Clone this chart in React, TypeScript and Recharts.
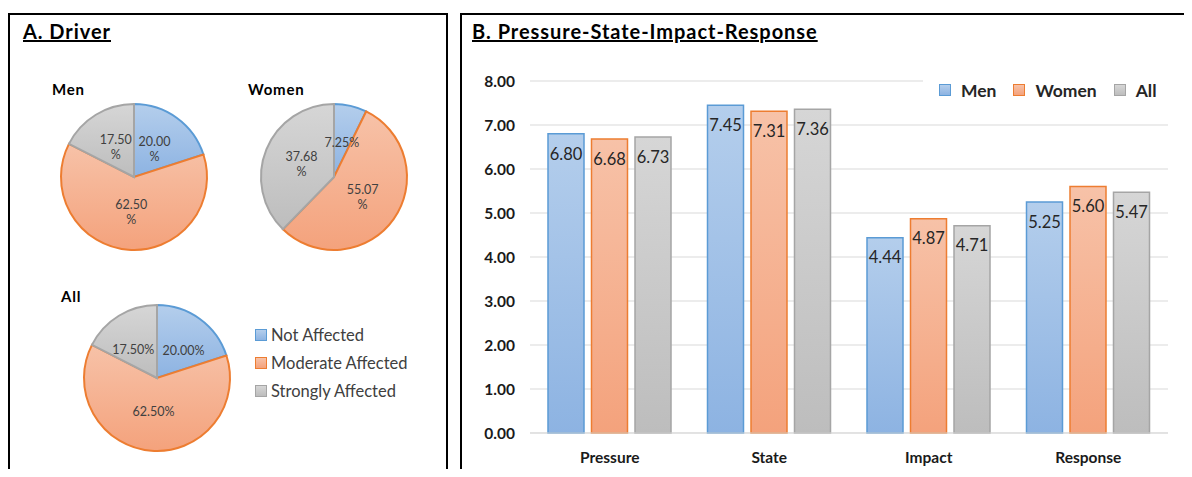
import React from 'react';
import { BarChart, Bar, XAxis, YAxis, CartesianGrid, LabelList, Legend, PieChart, Pie, Cell } from 'recharts';

const categories = ['Pressure', 'State', 'Impact', 'Response'];
const menScores = [6.8, 7.45, 4.44, 5.25];
const womenScores = [6.68, 7.31, 4.87, 5.6];
const allScores = [6.73, 7.36, 4.71, 5.47];
const yTicks = [0, 1, 2, 3, 4, 5, 6, 7, 8];
const seriesNames = ['Men', 'Women', 'All'];

const impactLevels = ['Not Affected', 'Moderate Affected', 'Strongly Affected'];
const menShares = [20.0, 62.5, 17.5];
const womenShares = [7.25, 55.07, 37.68];
const allShares = [20.0, 62.5, 17.5];

const FONT = 'Lato, "Open Sans", sans-serif';
const strokes = ['#5b9bd5', '#ed7d31', '#a5a5a5'];
const gradTop = ['#b4ceec', '#f7c2a8', '#d6d6d6'];
const gradBottom = ['#8db3e2', '#f4a27c', '#bdbdbd'];

const barData = categories.map((c, i) => ({ name: c, men: menScores[i], women: womenScores[i], all: allScores[i] }));
const mkPie = (vals: number[]) => impactLevels.map((n, i) => ({ name: n, value: vals[i] }));
const pies = [
  { key: 'men', data: mkPie(menShares), cx: 124, cy: 117, wrap: true, rx: 0.48, ry: 0.48 },
  { key: 'women', data: mkPie(womenShares), cx: 324, cy: 117, wrap: true, rx: 0.48, ry: 0.48 },
  { key: 'all', data: mkPie(allShares), cx: 147, cy: 318, wrap: false, rx: 0.62, ry: 0.46 },
];

const RAD = Math.PI / 180;

function Defs({ prefix }: { prefix: string }) {
  return (
    <defs>
      {strokes.map((s, i) => (
        <linearGradient key={i} id={`${prefix}${i}`} x1="0" y1="0" x2="0" y2="1">
          <stop offset="0%" stopColor={gradTop[i]} />
          <stop offset="100%" stopColor={gradBottom[i]} />
        </linearGradient>
      ))}
    </defs>
  );
}

const makePieLabel = (wrap: boolean, rx: number, ry: number) => (props: any) => {
  const { cx, cy, midAngle, outerRadius, value } = props;
  const x = cx + outerRadius * rx * Math.cos(-midAngle * RAD);
  const y = cy + outerRadius * ry * Math.sin(-midAngle * RAD);
  const txt = value.toFixed(2);
  if (wrap && value >= 10) {
    return (
      <text x={x} y={y} textAnchor="middle" fontSize={12.5} fill="#404040" fontFamily={FONT}>
        <tspan x={x} dy={-3}>{txt}</tspan>
        <tspan x={x} dy={15}>%</tspan>
      </text>
    );
  }
  return (
    <text x={x} y={y} textAnchor="middle" dominantBaseline="central" fontSize={12.5} fill="#404040" fontFamily={FONT}>
      {txt + '%'}
    </text>
  );
};

const PieLegend = () => (
  <div style={{ fontFamily: FONT, fontSize: 16.5, color: '#404040' }}>
    {impactLevels.map((n, i) => (
      <div key={n} style={{ display: 'flex', alignItems: 'center', height: 28 }}>
        <span style={{ display: 'inline-block', width: 10, height: 10, border: `1px solid ${strokes[i]}`, background: `linear-gradient(${gradTop[i]}, ${gradBottom[i]})`, marginRight: 4 }} />
        <span>{n}</span>
      </div>
    ))}
  </div>
);

const BarLegend = () => (
  <div style={{ display: 'flex', alignItems: 'center', fontFamily: FONT, fontWeight: 700, fontSize: 17.5, color: '#262626', background: '#fff', height: 38, paddingLeft: 16 }}>
    {seriesNames.map((n, i) => (
      <div key={n} style={{ display: 'flex', alignItems: 'center', marginRight: 17 }}>
        <span style={{ display: 'inline-block', width: 10, height: 10, border: `1px solid ${strokes[i]}`, background: `linear-gradient(${gradTop[i]}, ${gradBottom[i]})`, marginRight: 10 }} />
        <span>{n}</span>
      </div>
    ))}
  </div>
);

const titleStyle: React.CSSProperties = {
  position: 'absolute', fontFamily: FONT, fontWeight: 700, fontSize: 20, letterSpacing: 0.95, textDecoration: 'underline', color: '#000', whiteSpace: 'nowrap',
};
const pieTitle: React.CSSProperties = {
  position: 'absolute', fontFamily: FONT, fontWeight: 700, fontSize: 15, letterSpacing: 0.8, color: '#000',
};

export default function App() {
  return (
    <div style={{ position: 'relative', width: 1192, height: 477, margin: -8, overflow: 'hidden', background: '#fff' }}>
      <div style={{ position: 'absolute', left: 8, top: 13, width: 436, height: 480, border: '2px solid #000' }} />
      <div style={{ position: 'absolute', left: 460, top: 13, width: 760, height: 480, border: '2px solid #000' }} />

      <div style={{ ...titleStyle, left: 23, top: 19 }}>A. Driver</div>
      <div style={{ ...titleStyle, left: 472, top: 19 }}>B. Pressure-State-Impact-Response</div>

      <div style={{ ...pieTitle, left: 52, top: 80 }}>Men</div>
      <div style={{ ...pieTitle, left: 248, top: 80 }}>Women</div>
      <div style={{ ...pieTitle, left: 61, top: 287 }}>All</div>

      <div style={{ position: 'absolute', left: 10, top: 60 }}>
        <PieChart width={430} height={410} margin={{ top: 0, right: 0, bottom: 0, left: 0 }}>
          <Defs prefix="pg" />
          {pies.map((p) => (
            <Pie
              key={p.key}
              data={p.data}
              dataKey="value"
              nameKey="name"
              cx={p.cx}
              cy={p.cy}
              outerRadius={73}
              startAngle={90}
              endAngle={-270}
              isAnimationActive={false}
              labelLine={false}
              label={makePieLabel(p.wrap, p.rx, p.ry)}
            >
              {p.data.map((d, i) => (
                <Cell key={d.name} fill={`url(#pg${i})`} stroke={strokes[i]} strokeWidth={2} />
              ))}
            </Pie>
          ))}
          <Legend content={<PieLegend />} layout="horizontal" verticalAlign="middle" align="center"
            wrapperStyle={{ position: 'absolute', left: 245, top: 261, width: 185 }} />
        </PieChart>
      </div>

      <div style={{ position: 'absolute', left: 470, top: 50 }}>
        <BarChart width={722} height={427} data={barData} margin={{ top: 31, right: 24, bottom: 14, left: 10 }} barSize={36} barGap={7.5}>
          <Defs prefix="bg" />
          <CartesianGrid vertical={false} stroke="#d9d9d9" strokeWidth={1} />
          <XAxis dataKey="name" axisLine={{ stroke: '#d9d9d9' }} tickLine={false} height={30} tickMargin={13}
            tick={{ fontFamily: FONT, fontWeight: 700, fontSize: 15.5, fill: '#1a1a1a' }} />
          <YAxis domain={[0, 8]} ticks={yTicks} interval={0} axisLine={false} tickLine={false} width={50} tickMargin={9}
            tickFormatter={(v: number) => v.toFixed(2)}
            tick={{ fontFamily: FONT, fontWeight: 700, fontSize: 15.5, fill: '#1a1a1a' }} />
          <Legend content={<BarLegend />} layout="horizontal" verticalAlign="middle" align="center"
            wrapperStyle={{ position: 'absolute', left: 453, top: 21, width: 250 }} />
          {['men', 'women', 'all'].map((k, i) => (
            <Bar key={k} dataKey={k} name={seriesNames[i]} fill={`url(#bg${i})`} stroke={strokes[i]} strokeWidth={1.5} isAnimationActive={false}>
              <LabelList dataKey={k} position="insideTop" offset={14} formatter={(v: any) => Number(v).toFixed(2)}
                style={{ fontFamily: FONT, fontSize: 16.5, fill: '#262626' }} />
            </Bar>
          ))}
        </BarChart>
      </div>
    </div>
  );
}
